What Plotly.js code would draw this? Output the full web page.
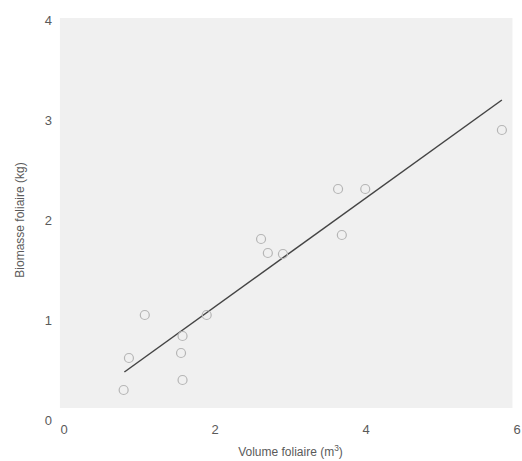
<!DOCTYPE html>
<html>
<head>
<meta charset="utf-8">
<script src="https://cdn.plot.ly/plotly-3.0.1.min.js"></script>
<style>html,body{margin:0;padding:0;background:#fff;}#chart{width:522px;height:461px;}</style>
</head>
<body>
<div id="chart"></div>
<script>
// Observed data (Volume foliaire m3, Biomasse foliaire kg)
const volume = [0.79, 0.86, 1.07, 1.57, 1.55, 1.57, 1.89, 2.61, 2.70, 2.90, 3.63, 3.68, 3.99, 5.80];
const biomasse = [0.30, 0.62, 1.05, 0.84, 0.67, 0.40, 1.05, 1.81, 1.67, 1.66, 2.31, 1.85, 2.31, 2.90];
// Fitted regression line endpoints
const fitX = [0.8, 5.8];
const fitY = [0.48, 3.2];
const xTicks = [0, 2, 4, 6];
const yTicks = [0, 1, 2, 3, 4];

const font = {family: 'Liberation Sans, Arial, sans-serif', color: '#5a5a5a', size: 13};

const traces = [
  {x: fitX, y: fitY, mode: 'lines', line: {color: '#444', width: 1.5}, hoverinfo: 'skip'},
  {x: volume, y: biomasse, mode: 'markers', marker: {symbol: 'circle-open', size: 9, color: '#b5b5b5', line: {width: 1.2, color: '#b5b5b5'}}}
];

const layout = {
  width: 522, height: 461,
  margin: {l: 64, r: 5, t: 20, b: 41},
  paper_bgcolor: '#fff', plot_bgcolor: 'rgba(0,0,0,0)',
  showlegend: false,
  font: font,
  xaxis: {range: [0, 6], tickvals: xTicks, ticktext: xTicks.map(String), showgrid: false, zeroline: false, showline: false, ticks: '',
          tickfont: font, automargin: false, ticklabeloverflow: 'allow',
          title: {text: 'Volume foliaire (m<sup>3</sup>)', font: {family: font.family, color: '#5a5a5a', size: 12}, standoff: 11}},
  yaxis: {range: [0, 4], tickvals: yTicks, ticktext: yTicks.map(String), showgrid: false, zeroline: false, showline: false, ticks: '',
          tickfont: font, automargin: false, ticklabelstandoff: 11, ticklabeloverflow: 'allow',
          title: {text: 'Biomasse foliaire (kg)', font: {family: font.family, color: '#5a5a5a', size: 12}, standoff: 17}},
  shapes: [{type: 'rect', xref: 'paper', yref: 'paper', x0: -0.009, x1: 0.99, y0: 0.03, y1: 1.005,
            fillcolor: '#f0f0f0', line: {width: 0}, layer: 'below'}]
};

Plotly.newPlot('chart', traces, layout, {displayModeBar: false, staticPlot: true});
</script>
</body>
</html>
